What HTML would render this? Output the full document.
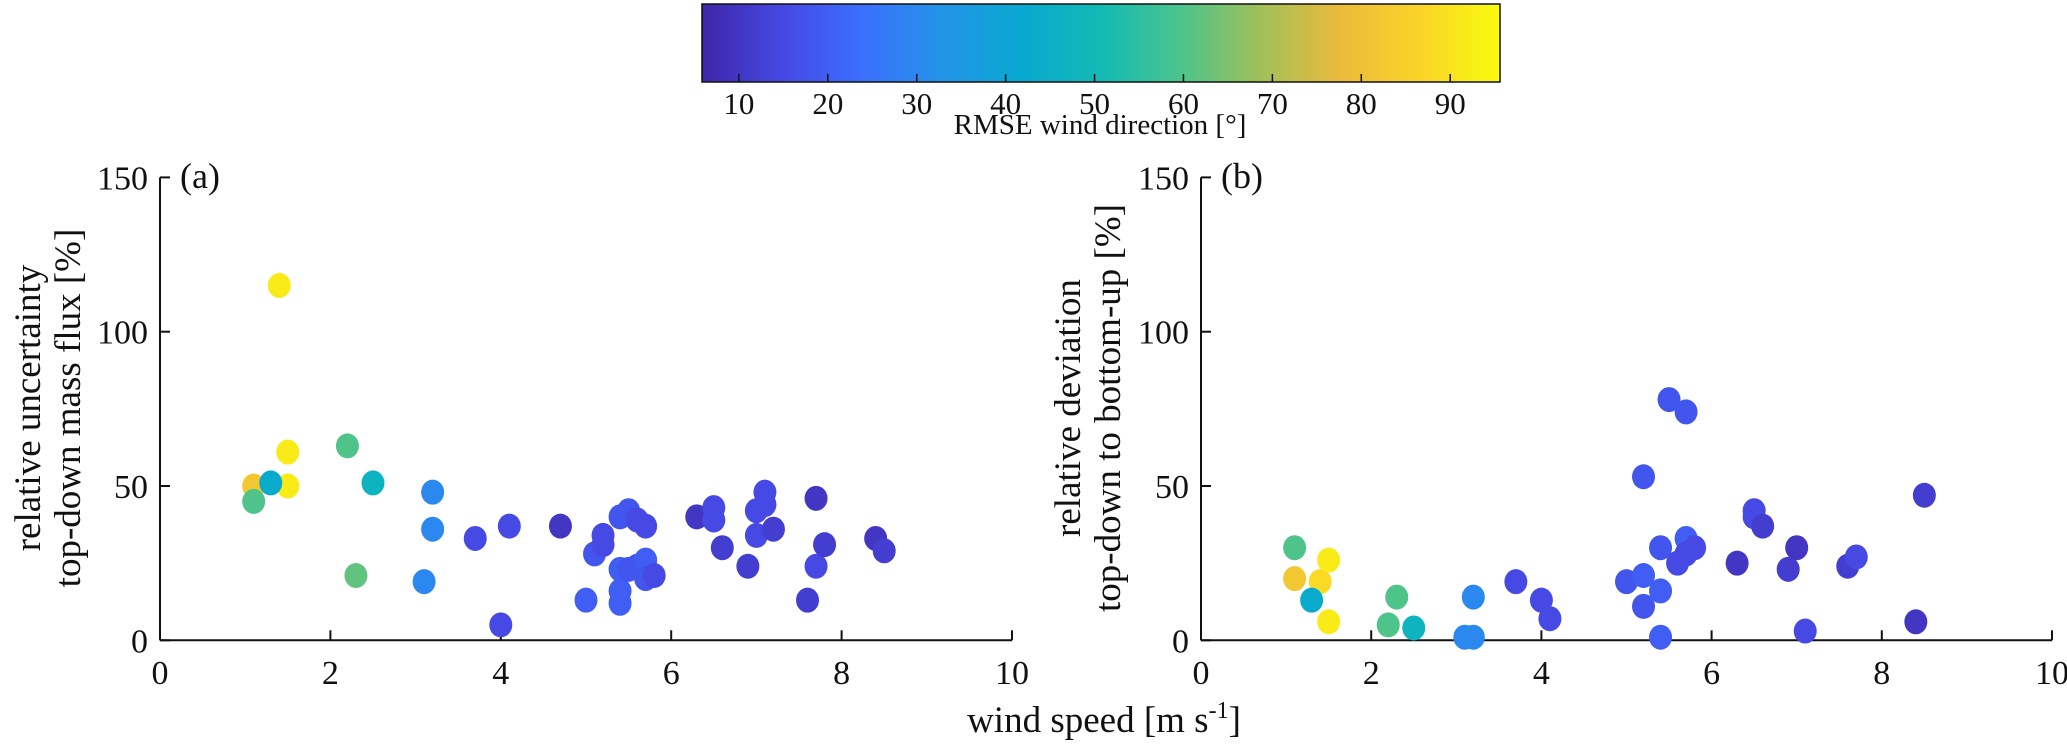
<!DOCTYPE html>
<html><head><meta charset="utf-8"><style>
body{margin:0;background:#fff}
svg text{font-family:"Liberation Serif","Times New Roman",serif;fill:#111}
</style></head><body>
<svg id="fig" width="2067" height="749" xmlns="http://www.w3.org/2000/svg">
<defs><linearGradient id="parula" x1="0" x2="1" y1="0" y2="0">
<stop offset="0" stop-color="rgb(62,38,168)"/><stop offset="0.1" stop-color="rgb(70,72,227)"/><stop offset="0.2" stop-color="rgb(60,110,254)"/><stop offset="0.3" stop-color="rgb(36,148,232)"/><stop offset="0.4" stop-color="rgb(8,168,208)"/><stop offset="0.5" stop-color="rgb(18,186,180)"/><stop offset="0.6" stop-color="rgb(76,196,140)"/><stop offset="0.7" stop-color="rgb(160,192,90)"/><stop offset="0.8" stop-color="rgb(235,186,60)"/><stop offset="0.9" stop-color="rgb(250,212,40)"/><stop offset="1" stop-color="rgb(249,251,14)"/>
</linearGradient></defs>
</svg>
<script>
const cbTicks=[10,20,30,40,50,60,70,80,90];
const xTicks=[0,2,4,6,8,10];
const yTicks=[0,50,100,150];
const aX=[1.4,1.5,1.5,1.1,1.3,1.1,2.2,2.5,2.3,3.2,3.2,3.1,3.7,4.1,4.0,4.7,5.0,5.1,5.2,5.2,5.4,5.5,5.4,5.4,5.4,5.6,5.5,5.6,5.7,5.7,5.7,5.8,6.3,6.5,6.5,6.6,6.9,7.0,7.0,7.1,7.1,7.2,7.6,7.7,7.7,7.8,8.4,8.5];
const aY=[115,61,50,50,51,45,63,51,21,48,36,19,33,37,5,37,13,28,34,31,40,42,23,16,12,24,23,39,37,26,20,21,40,43,39,30,24,42,34,48,44,36,13,46,24,31,33,29];
const aC=[92,92,92,82,43,60,60,47,62,30,30,30,15,15,15,10,20,18,15,15,18,18,20,20,20,18,18,15,15,20,18,15,10,15,15,12,12,15,15,15,15,12,12,10,15,12,10,12];
const bX=[1.1,1.1,1.4,1.5,1.5,1.3,2.2,2.3,2.5,3.1,3.2,3.2,3.7,4.0,4.1,5.0,5.2,5.2,5.2,5.4,5.4,5.4,5.5,5.7,5.6,5.7,5.8,5.7,6.3,6.5,6.5,6.6,6.9,7.0,7.1,7.6,7.7,8.4,8.5];
const bY=[30,20,19,26,6,13,5,14,4,1,1,14,19,13,7,19,53,21,11,30,16,1,78,74,25,33,30,28,25,42,40,37,23,30,3,24,27,6,47];
const bC=[60,82,88,92,92,43,60,60,47,30,30,30,15,15,15,18,18,20,18,18,20,20,18,18,15,20,15,15,10,15,15,12,12,10,15,12,15,10,12];
const cmin=5.85,cmax=95.6;
const stops=[[62,38,168],[70,72,227],[60,110,254],[36,148,232],[8,168,208],[18,186,180],[76,196,140],[160,192,90],[235,186,60],[250,212,40],[249,251,14]];
function cmap(v){const n=stops.length-1;let t=Math.max(0,Math.min(1,(v-cmin)/(cmax-cmin)))*n;let i=Math.min(n-1,Math.floor(t)),f=t-i;const a=stops[i],b=stops[i+1];return `rgb(${a.map((c,k)=>Math.round(c+(b[k]-c)*f)).join(',')})`;}
const svg=document.getElementById('fig');const NS='http://www.w3.org/2000/svg';
function mk(tag,attrs,txt){const e=document.createElementNS(NS,tag);for(const k in attrs)e.setAttribute(k,attrs[k]);if(txt!==undefined)e.textContent=txt;svg.appendChild(e);return e;}
const cbL=702,cbR=1500,cbT=4,cbB=82;
const cbx=v=>cbL+(v-cmin)/(cmax-cmin)*(cbR-cbL);
let e=mk('rect',{x:cbL,y:cbT,width:cbR-cbL,height:cbB-cbT,fill:'url(#parula)',stroke:'#111','stroke-width':1.5});


cbTicks.forEach(v=>{mk('line',{x1:cbx(v),x2:cbx(v),y1:cbB,y2:cbB-8,stroke:'#111','stroke-width':1.5});
e=mk('text',{x:cbx(v),y:114,'font-size':31,'text-anchor':'middle'},v);

});
e=mk('text',{x:1100,y:134,'font-size':29,'text-anchor':'middle'},'RMSE wind direction [°]');


function panel(x0,x1,X,Y,C,tag,lab1,lab2,ylx){
 const y0=640.3,y1=177.4;
 const sx=v=>x0+v/10*(x1-x0), sy=v=>y0+(v/150)*(y1-y0);
 mk('line',{x1:x0,x2:x0,y1:y1,y2:y0,stroke:'#111','stroke-width':2});
 mk('line',{x1:x0,x2:x1,y1:y0,y2:y0,stroke:'#111','stroke-width':2});
 xTicks.forEach(v=>{mk('line',{x1:sx(v),x2:sx(v),y1:y0,y2:y0-10,stroke:'#111','stroke-width':2});
  e=mk('text',{x:sx(v),y:684,'font-size':34,'text-anchor':'middle'},v);
  
  });
 yTicks.forEach(v=>{mk('line',{x1:x0,x2:x0+10,y1:sy(v),y2:sy(v),stroke:'#111','stroke-width':2});
  e=mk('text',{x:x0-12,y:sy(v)+12,'font-size':34,'text-anchor':'end'},v);
  
  });
 X.forEach((v,i)=>{e=mk('ellipse',{cx:sx(v),cy:sy(Y[i]),rx:11.5,ry:12.5,fill:cmap(C[i])});
  
  });
 e=mk('text',{x:x0+20,y:188,'font-size':36},tag);
 
 
 e=mk('text',{x:0,y:0,'font-size':37,'text-anchor':'middle',transform:`translate(${ylx},408) rotate(-90)`},lab1);
 
 
 e=mk('text',{x:0,y:0,'font-size':37,'text-anchor':'middle',transform:`translate(${ylx+40},408) rotate(-90)`},lab2);
 
 
}
panel(160,1012,aX,aY,aC,'(a)','relative uncertainty','top-down mass flux [%]',40);
panel(1201,2052,bX,bY,bC,'(b)','relative deviation','top-down to bottom-up [%]',1080);
e=mk('text',{x:1104,y:732,'font-size':37,'text-anchor':'middle'});
e.innerHTML='wind speed [m s<tspan dy="-14" font-size="24">-1</tspan><tspan dy="14">]</tspan>';


</script>
</body></html>
